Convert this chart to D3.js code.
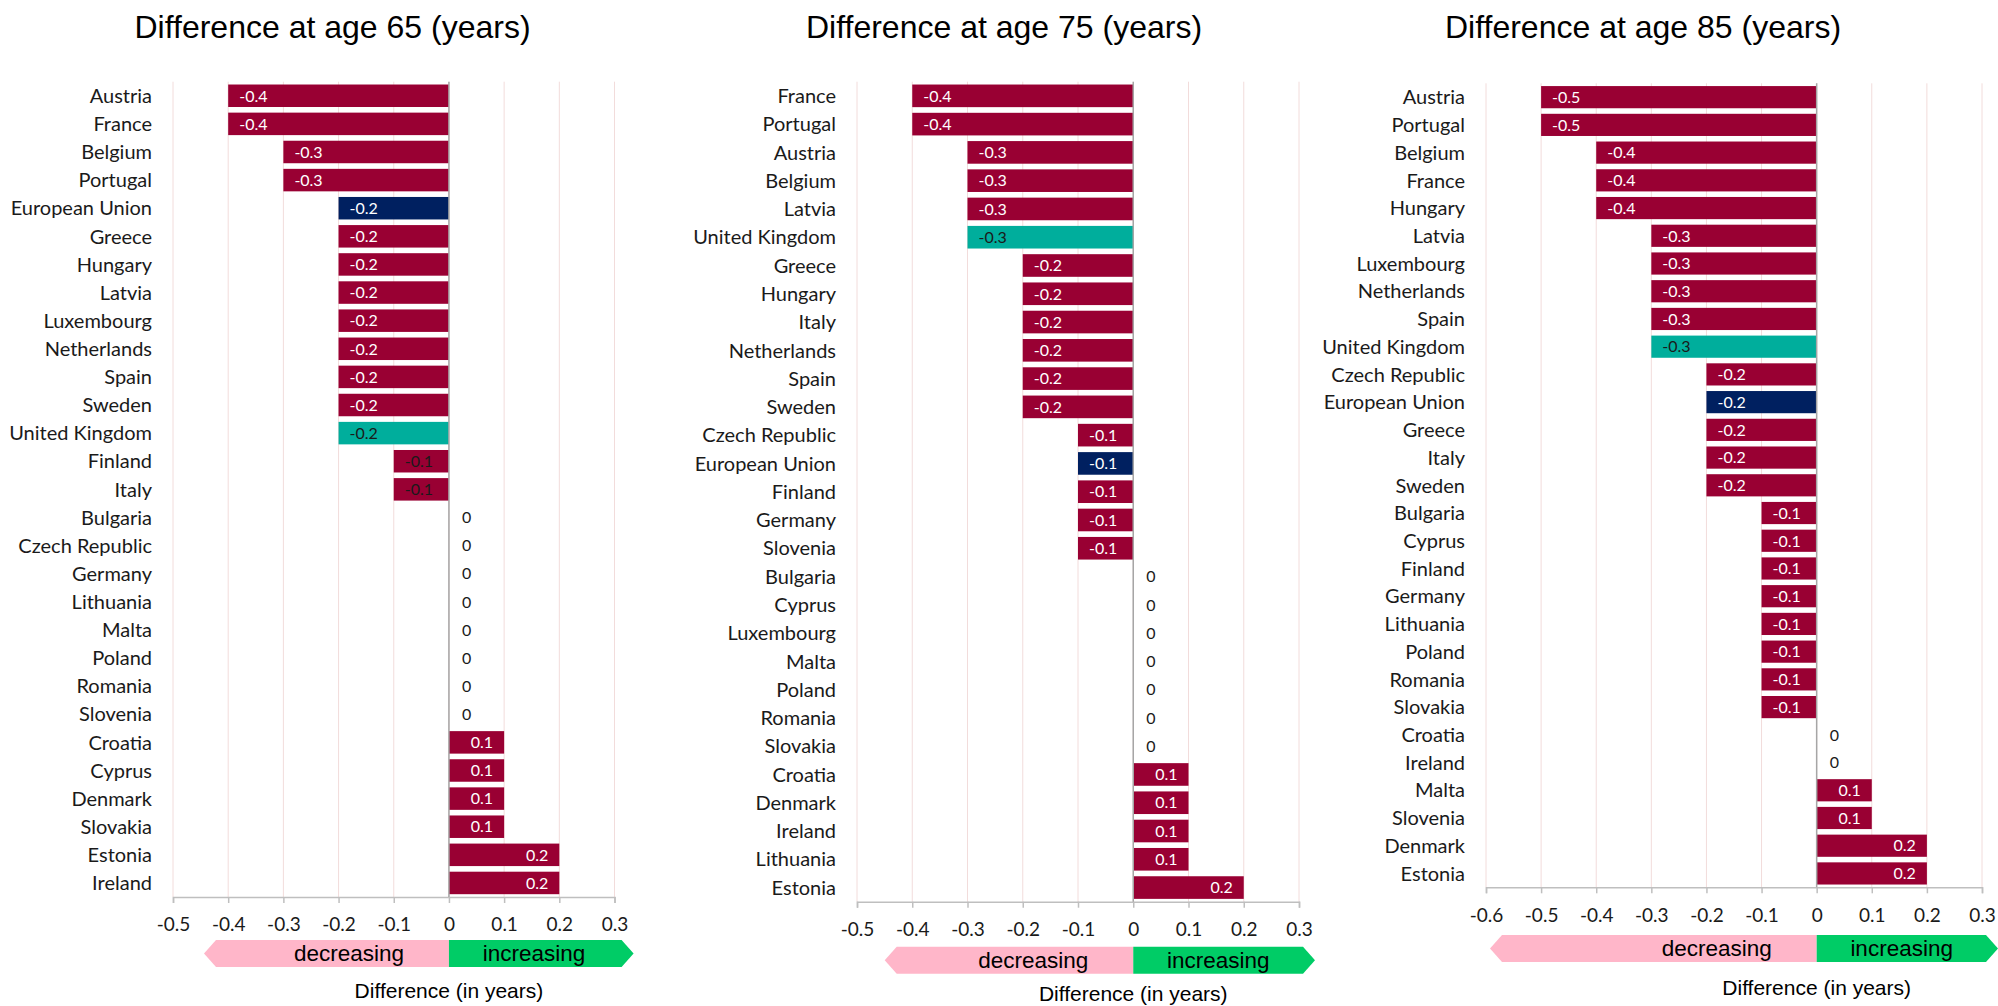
<!DOCTYPE html>
<html>
<head>
<meta charset="utf-8">
<script src="https://cdn.jsdelivr.net/npm/d3@7"></script>
<style>
  body { margin: 0; background: #fff; }
  svg { display: block; }
</style>
</head>
<body>
<svg id="chart" width="1998" height="1006"></svg>
<script>
// ---- data -------------------------------------------------------------
const titles = [
  "Difference at age 65 (years)",
  "Difference at age 75 (years)",
  "Difference at age 85 (years)"
];

const countries65 = ["Austria","France","Belgium","Portugal","European Union","Greece","Hungary","Latvia",
  "Luxembourg","Netherlands","Spain","Sweden","United Kingdom","Finland","Italy","Bulgaria","Czech Republic",
  "Germany","Lithuania","Malta","Poland","Romania","Slovenia","Croatia","Cyprus","Denmark","Slovakia","Estonia","Ireland"];
const values65 = [-0.4,-0.4,-0.3,-0.3,-0.2,-0.2,-0.2,-0.2,-0.2,-0.2,-0.2,-0.2,-0.2,-0.1,-0.1,
  0,0,0,0,0,0,0,0,0.1,0.1,0.1,0.1,0.2,0.2];

const countries75 = ["France","Portugal","Austria","Belgium","Latvia","United Kingdom","Greece","Hungary",
  "Italy","Netherlands","Spain","Sweden","Czech Republic","European Union","Finland","Germany","Slovenia",
  "Bulgaria","Cyprus","Luxembourg","Malta","Poland","Romania","Slovakia","Croatia","Denmark","Ireland","Lithuania","Estonia"];
const values75 = [-0.4,-0.4,-0.3,-0.3,-0.3,-0.3,-0.2,-0.2,-0.2,-0.2,-0.2,-0.2,-0.1,-0.1,-0.1,-0.1,-0.1,
  0,0,0,0,0,0,0,0.1,0.1,0.1,0.1,0.2];

const countries85 = ["Austria","Portugal","Belgium","France","Hungary","Latvia","Luxembourg","Netherlands",
  "Spain","United Kingdom","Czech Republic","European Union","Greece","Italy","Sweden","Bulgaria","Cyprus",
  "Finland","Germany","Lithuania","Poland","Romania","Slovakia","Croatia","Ireland","Malta","Slovenia","Denmark","Estonia"];
const values85 = [-0.5,-0.5,-0.4,-0.4,-0.4,-0.3,-0.3,-0.3,-0.3,-0.3,-0.2,-0.2,-0.2,-0.2,-0.2,
  -0.1,-0.1,-0.1,-0.1,-0.1,-0.1,-0.1,-0.1,0,0,0.1,0.1,0.2,0.2];

const ticks65 = [-0.5,-0.4,-0.3,-0.2,-0.1,0,0.1,0.2,0.3];
const ticks75 = [-0.5,-0.4,-0.3,-0.2,-0.1,0,0.1,0.2,0.3];
const ticks85 = [-0.6,-0.5,-0.4,-0.3,-0.2,-0.1,0,0.1,0.2,0.3];

// value labels printed in dark text instead of white
const darkLabels65 = ["United Kingdom","Finland","Italy"];
const darkLabels75 = ["United Kingdom"];
const darkLabels85 = ["United Kingdom"];

const axisTitle = "Difference (in years)";
const arrowTexts = ["decreasing", "increasing"];

// ---- styling / layout -------------------------------------------------
const COL = {
  bar: "#990033", eu: "#002060", uk: "#00AE9C",
  grid: "#F2DCDB", axis: "#BFBFBF", zero: "#A6A6A6",
  dec: "#FFB6C9", inc: "#00CC66", text: "#1a1a1a"
};
const LABEL_FONT = "Lato, 'Open Sans', sans-serif";
const TITLE_FONT = "'Liberation Sans', Arial, sans-serif";

const panels = [
  { cats: countries65, vals: values65, ticks: ticks65, dark: darkLabels65,
    x0: 173, x1: 614.5, top: 81.7, bottom: 897, titleX: 332.5,
    arrowTop: 940, arrowH: 27, arrowLeft: 204, arrowRight: 633.6, axisTitleY: 998 },
  { cats: countries75, vals: values75, ticks: ticks75, dark: darkLabels75,
    x0: 857, x1: 1299, top: 81.7, bottom: 901.7, titleX: 1004,
    arrowTop: 946.7, arrowH: 27, arrowLeft: 884.7, arrowRight: 1315, axisTitleY: 1001 },
  { cats: countries85, vals: values85, ticks: ticks85, dark: darkLabels85,
    x0: 1486, x1: 1982, top: 83.3, bottom: 887.3, titleX: 1643,
    arrowTop: 935, arrowH: 27, arrowLeft: 1490, arrowRight: 1998, axisTitleY: 995 }
];

const fmt = d => (Math.abs(d) < 1e-9 ? "0" : (+d.toFixed(1)).toString());

const svg = d3.select("#chart");

panels.forEach((p, i) => {
  const g = svg.append("g");
  const dom = [p.ticks[0], p.ticks[p.ticks.length - 1]];
  const x = d3.scaleLinear().domain(dom).range([p.x0, p.x1]);
  const y = d3.scaleBand().domain(p.cats).range([p.top, p.bottom])
    .paddingInner(0.2).paddingOuter(0.1);
  const x0 = x(0);

  // title
  g.append("text")
    .attr("x", p.titleX).attr("y", 38)
    .attr("text-anchor", "middle")
    .style("font-family", TITLE_FONT).style("font-size", "32px").style("fill", "#000")
    .text(titles[i]);

  // vertical gridlines
  g.append("g").selectAll("line").data(p.ticks).join("line")
    .attr("x1", d => x(d)).attr("x2", d => x(d))
    .attr("y1", p.top).attr("y2", p.bottom)
    .attr("stroke", COL.grid).attr("stroke-width", 1);

  // bottom axis
  const ax = g.append("g").attr("transform", `translate(0,${p.bottom})`)
    .call(d3.axisBottom(x).tickValues(p.ticks).tickFormat(fmt).tickSize(6).tickPadding(15));
  ax.select(".domain").attr("stroke", COL.axis).attr("stroke-width", 1.5);
  ax.selectAll(".tick line").attr("stroke", COL.axis).attr("stroke-width", 1.5);
  ax.selectAll(".tick text")
    .style("font-family", LABEL_FONT).style("font-size", "19px").style("fill", COL.text);

  const rows = p.cats.map((c, k) => ({ c, v: p.vals[k] }));

  // bars
  g.append("g").selectAll("rect").data(rows).join("rect")
    .attr("x", d => Math.min(x(d.v), x0))
    .attr("width", d => Math.abs(x(d.v) - x0))
    .attr("y", d => y(d.c)).attr("height", y.bandwidth())
    .attr("fill", d => d.c === "European Union" ? COL.eu : d.c === "United Kingdom" ? COL.uk : COL.bar);

  // zero line
  g.append("line")
    .attr("x1", x0).attr("x2", x0).attr("y1", p.top).attr("y2", p.bottom)
    .attr("stroke", COL.zero).attr("stroke-width", 1.5);

  // category labels
  g.append("g").selectAll("text").data(rows).join("text")
    .attr("x", p.x0 - 21)
    .attr("y", d => y(d.c) + y.bandwidth() / 2)
    .attr("dy", "0.36em")
    .attr("text-anchor", "end")
    .style("font-family", LABEL_FONT).style("font-size", "20px").style("fill", COL.text)
    .text(d => d.c);

  // value labels at the inside end of each bar
  g.append("g").selectAll("text").data(rows).join("text")
    .attr("x", d => d.v < 0 ? x(d.v) + 11 : d.v > 0 ? x(d.v) - 11 : x0 + 13)
    .attr("y", d => y(d.c) + y.bandwidth() / 2)
    .attr("dy", "0.36em")
    .attr("text-anchor", d => d.v > 0 ? "end" : "start")
    .style("font-family", LABEL_FONT).style("font-size", "16px")
    .style("fill", d => (d.v === 0 || p.dark.includes(d.c)) ? COL.text : "#fff")
    .text(d => fmt(d.v));

  // direction arrow under the axis
  const t = p.arrowTop, b = p.arrowTop + p.arrowH, m = (t + b) / 2, tip = 12;
  g.append("path")
    .attr("d", `M${x0},${t}L${p.arrowLeft + tip},${t}L${p.arrowLeft},${m}L${p.arrowLeft + tip},${b}L${x0},${b}Z`)
    .attr("fill", COL.dec);
  g.append("path")
    .attr("d", `M${x0},${t}L${p.arrowRight - tip},${t}L${p.arrowRight},${m}L${p.arrowRight - tip},${b}L${x0},${b}Z`)
    .attr("fill", COL.inc);
  g.append("text")
    .attr("x", x0 - 100).attr("y", m).attr("dy", "0.35em").attr("text-anchor", "middle")
    .style("font-family", TITLE_FONT).style("font-size", "22.5px").style("fill", "#000")
    .text(arrowTexts[0]);
  g.append("text")
    .attr("x", x0 + 85).attr("y", m).attr("dy", "0.35em").attr("text-anchor", "middle")
    .style("font-family", TITLE_FONT).style("font-size", "22.5px").style("fill", "#000")
    .text(arrowTexts[1]);

  // axis title
  g.append("text")
    .attr("x", x0).attr("y", p.axisTitleY).attr("text-anchor", "middle")
    .style("font-family", TITLE_FONT).style("font-size", "21px").style("fill", "#000")
    .text(axisTitle);
});
</script>
</body>
</html>
